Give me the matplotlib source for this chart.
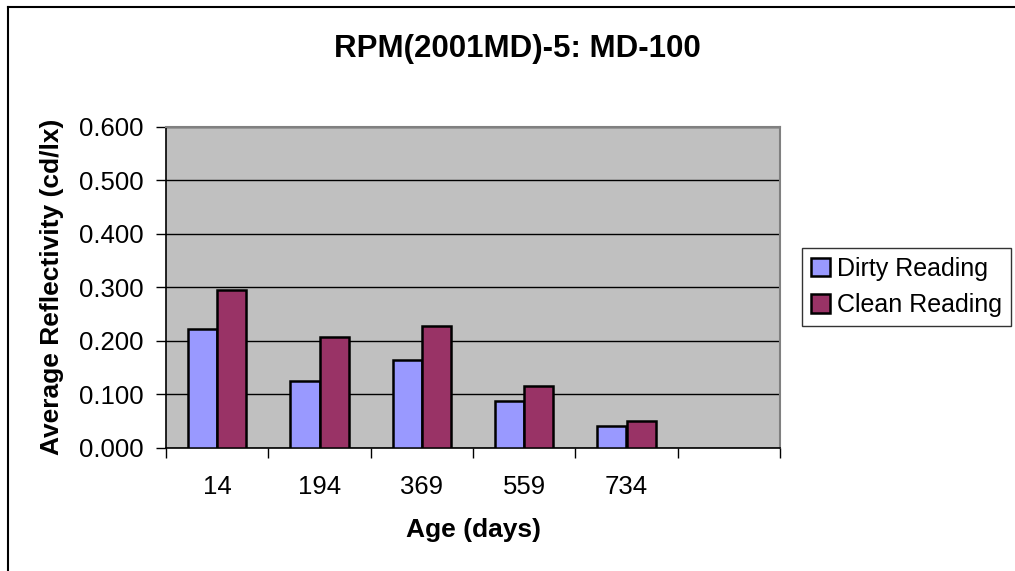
import matplotlib
matplotlib.use("Agg")
import matplotlib.pyplot as plt
import numpy as np
from matplotlib.patches import Patch
from matplotlib.lines import Line2D

plt.rcParams['font.family'] = ['Liberation Sans', 'DejaVu Sans']

categories = ["14", "194", "369", "559", "734", ""]
dirty = [0.222, 0.124, 0.164, 0.087, 0.040, np.nan]
clean = [0.295, 0.207, 0.228, 0.116, 0.050, np.nan]
yticks = [0.0, 0.1, 0.2, 0.3, 0.4, 0.5, 0.6]
title = "RPM(2001MD)-5: MD-100"
xlabel = "Age (days)"
ylabel = "Average Reflectivity (cd/lx)"
series_names = ["Dirty Reading", "Clean Reading"]
colors = ["#9999FF", "#993366"]

W, H = 1015, 571
fig = plt.figure(figsize=(W / 100, H / 100), dpi=100)

# outer chart border (top and left visible, right/bottom cut off)
fig.add_artist(Line2D([8 / W, 8 / W], [0, 1 - 7 / H], transform=fig.transFigure,
                      color="black", lw=1.5))
fig.add_artist(Line2D([8 / W, 1], [1 - 7 / H, 1 - 7 / H], transform=fig.transFigure,
                      color="black", lw=1.5))

left, right, top, bottom = 166, 780, 127, 447.5
ax = fig.add_axes([left / W, 1 - bottom / H, (right - left) / W, (bottom - top) / H])
ax.set_facecolor("#C0C0C0")

x = np.arange(len(categories))
bw = 0.285
ax.bar(x - bw / 2, dirty, width=bw, color=colors[0], edgecolor="black", linewidth=1.8, zorder=3)
ax.bar(x + bw / 2, clean, width=bw, color=colors[1], edgecolor="black", linewidth=1.8, zorder=3)

ax.set_xlim(-0.5, len(categories) - 0.5)
ax.set_ylim(0, 0.6)
ax.set_yticks(yticks)
ax.set_yticklabels([f"{v:.3f}" for v in yticks], fontsize=18.5)
ax.yaxis.grid(True, color="black", linewidth=1.0, zorder=1)
ax.set_axisbelow(True)

ax.set_xticks(x)
ax.set_xticklabels(categories, fontsize=18.5)
ax.set_xticks(np.arange(len(categories) + 1) - 0.5, minor=True)
ax.tick_params(axis="x", which="major", length=0, pad=20)
ax.tick_params(axis="x", which="minor", length=7, width=1, direction="out", color="black")
ax.tick_params(axis="y", which="major", length=7, width=1, direction="out", pad=9, color="black")

for s in ["top", "right"]:
    ax.spines[s].set_color("#808080")
    ax.spines[s].set_linewidth(1.5)
for s in ["left", "bottom"]:
    ax.spines[s].set_color("black")
    ax.spines[s].set_linewidth(1.2)

fig.text(517 / W, 1 - 57 / H, title, ha="center", va="baseline", fontsize=22.5, fontweight="bold")
fig.text(473 / W, 1 - 530 / H, xlabel, ha="center", va="center", fontsize=19, fontweight="bold")
fig.text(52 / W, 1 - 287 / H, ylabel, ha="center", va="center", rotation=90,
         fontsize=19, fontweight="bold")

handles = [Patch(facecolor=colors[i], edgecolor="black", linewidth=1.8, label=series_names[i])
           for i in range(2)]
leg = fig.legend(handles=handles, loc="upper left",
                 bbox_to_anchor=(802 / W, 1 - 248 / H), bbox_transform=fig.transFigure,
                 fontsize=18, frameon=True, fancybox=False, borderaxespad=0,
                 handlelength=0.75, handleheight=0.75, handletextpad=0.3,
                 labelspacing=0.5, borderpad=0.35)
leg.get_frame().set_edgecolor("black")
leg.get_frame().set_linewidth(1.0)

fig.savefig("out.png", dpi=100)
